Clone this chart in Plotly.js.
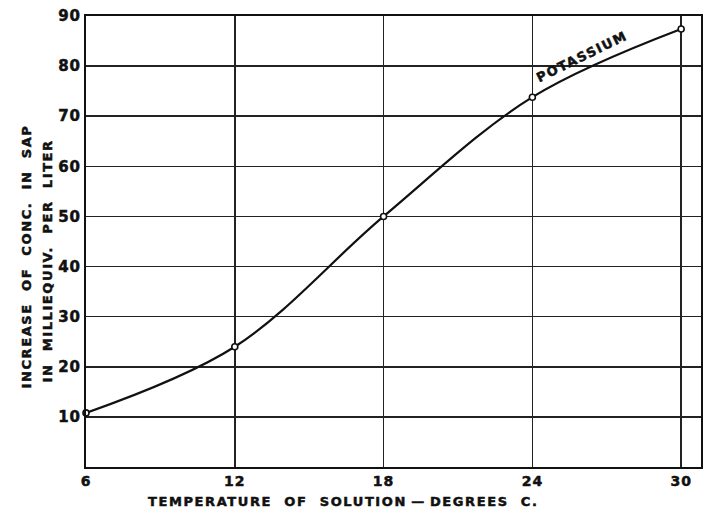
<!DOCTYPE html>
<html>
<head>
<meta charset="utf-8">
<script src="https://cdn.plot.ly/plotly-3.0.1.min.js"></script>
<style>
  html, body { margin: 0; padding: 0; background: #fff; }
  #chart { width: 704px; height: 511px; }
  .main-svg text { stroke: #111; stroke-width: 0.5px; }
  .xtick text, .ytick text { letter-spacing: 1px; }
  .annotation-text { letter-spacing: 1.6px; }
</style>
</head>
<body>
<div id="chart"></div>
<script>
// Data
const temperature = [6, 12, 18, 24, 30];            // degrees C
const potassium = [10.8, 24.0, 50.0, 73.8, 87.4];  // milliequiv. per liter
const xTicks = [6, 12, 18, 24, 30];
const yTicks = [10, 20, 30, 40, 50, 60, 70, 80, 90];
const seriesLabel = "POTASSIUM";
const xTitle = "TEMPERATURE  OF  SOLUTION\u2009\u2014\u2009DEGREES  C.";
const yTitle1 = "INCREASE  OF  CONC.  IN  SAP";
const yTitle2 = "IN  MILLIEQUIV.  PER  LITER";

const font = { family: "DejaVu Sans", color: "#111", weight: 700 };
function f(size) { return Object.assign({ size: size }, font); }

const trace = {
  x: temperature,
  y: potassium,
  type: "scatter",
  mode: "lines+markers",
  line: { color: "#111", width: 2.2, shape: "spline", smoothing: 1 },
  marker: { symbol: "circle", size: 6, color: "#fff", line: { color: "#111", width: 1.6 } },
  cliponaxis: false,
  hoverinfo: "skip"
};

const layout = {
  width: 704, height: 511,
  margin: { l: 86, r: 3, t: 16, b: 44 },
  paper_bgcolor: "#fff", plot_bgcolor: "#fff",
  showlegend: false,
  xaxis: {
    range: [6, 30.8],
    tickvals: xTicks,
    ticktext: xTicks.map(String),
    showgrid: true, gridcolor: "#222", gridwidth: 1.6,
    zeroline: false,
    showline: true, linecolor: "#111", linewidth: 2, mirror: true,
    ticks: "", ticklen: 0,
    tickfont: f(14)
  },
  yaxis: {
    range: [0, 90],
    tickvals: yTicks,
    ticktext: yTicks.map(String),
    showgrid: true, gridcolor: "#222", gridwidth: 1.6,
    zeroline: false,
    showline: true, linecolor: "#111", linewidth: 2, mirror: true,
    ticks: "", ticklen: 0,
    tickfont: f(15)
  },
  annotations: [
    {
      text: xTitle, xref: "x", yref: "paper", x: 16.4, y: -0.0776,
      yanchor: "middle", showarrow: false, font: f(13)
    },
    {
      text: yTitle1, xref: "paper", yref: "paper", x: 0, y: 0.4656,
      xshift: -69, textangle: -90, showarrow: false, font: f(13)
    },
    {
      text: yTitle2, xref: "paper", yref: "paper", x: 0, y: 0.4568,
      xshift: -48, textangle: -90, showarrow: false, font: f(13)
    },
    {
      text: seriesLabel, xref: "x", yref: "y", x: 26.0, y: 82.0,
      textangle: -26, showarrow: false, font: f(13)
    }
  ]
};

Plotly.newPlot("chart", [trace], layout, { staticPlot: true, displayModeBar: false });
</script>
</body>
</html>
